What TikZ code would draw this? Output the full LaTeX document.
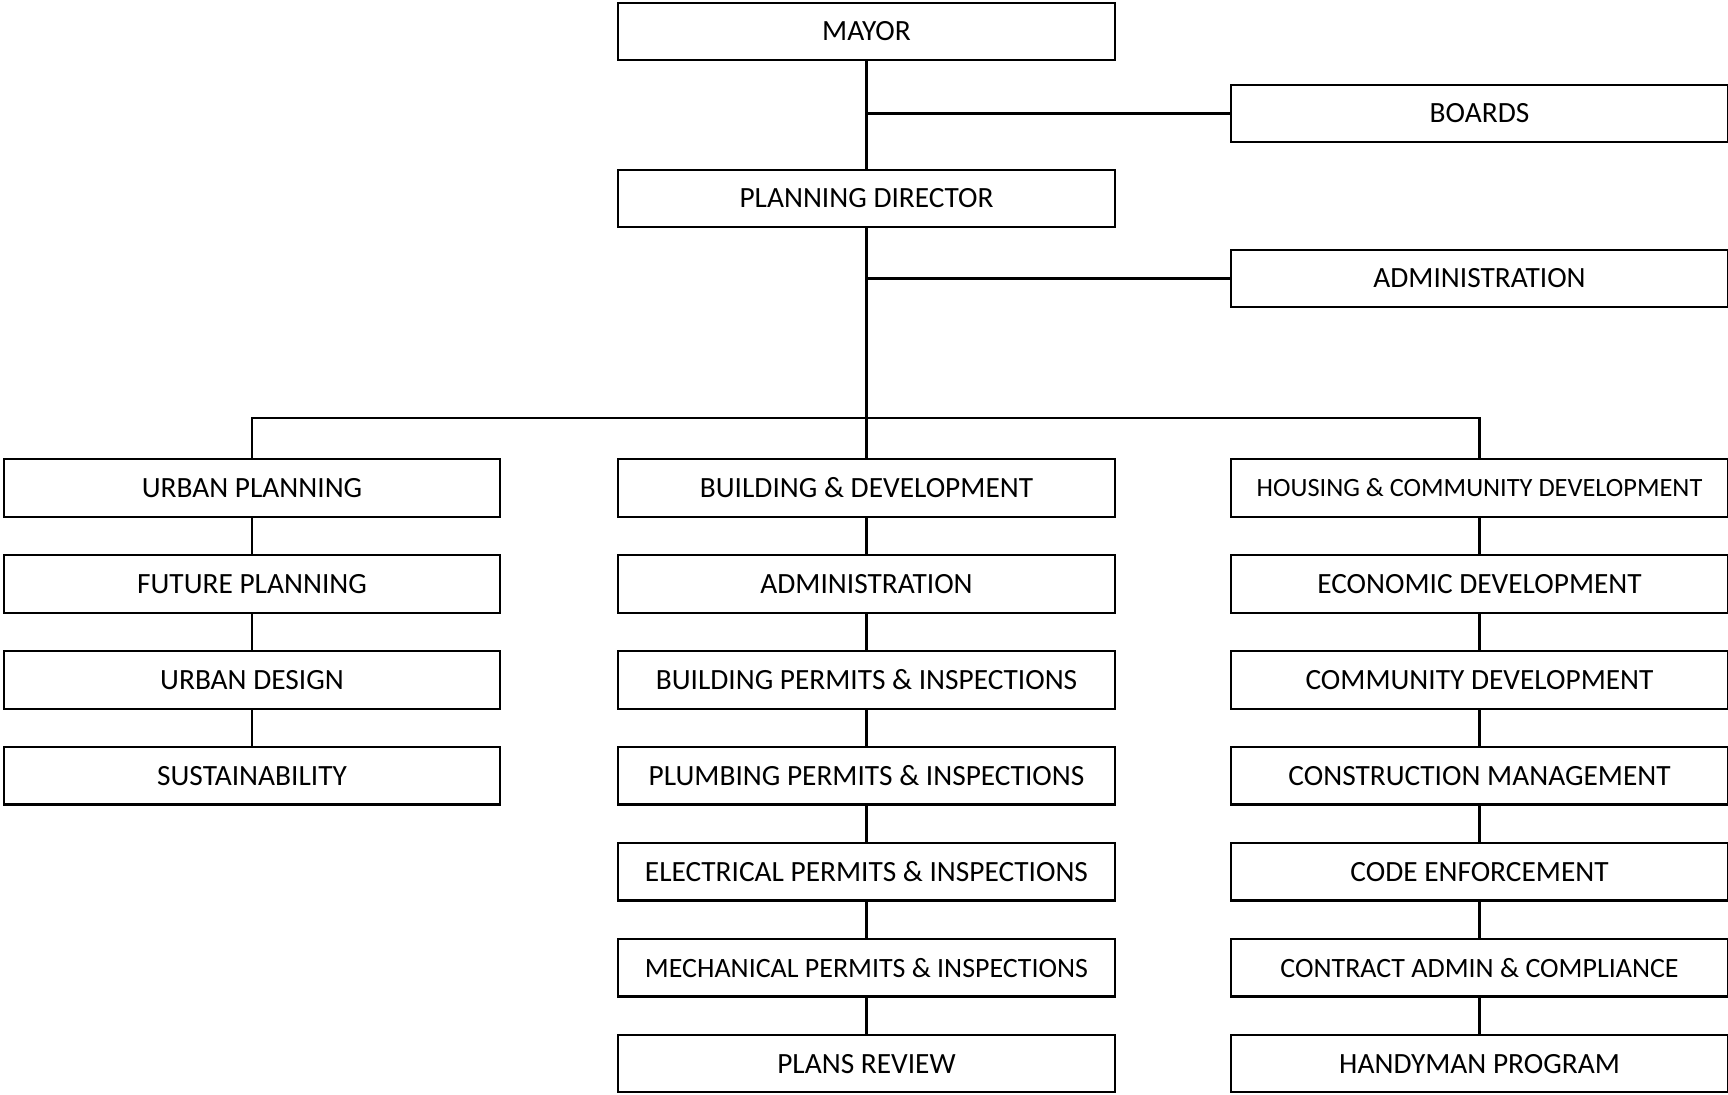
\documentclass[tikz,border=0pt]{standalone}
\usepackage{fontspec}
\setmainfont{Carlito}
\usetikzlibrary{positioning}

\tikzstyle{unit}=[draw, line width=0.6pt, minimum width=4.96cm, minimum height=0.573cm,
  inner sep=0pt, outer sep=0pt, font=\fontsize{8.35}{10}\selectfont]
\tikzstyle{tight}=[font=\fontsize{7.95}{9.5}\selectfont]

\begin{document}
\begin{tikzpicture}[x=0.01cm, y=-0.01cm, line width=0.6pt, node distance=0.386cm]
 \useasboundingbox (0,0) rectangle (1728,1094);
 % top of the chart
 \node[unit] (mayor) at (866.5,31.4) {MAYOR};
 \node[unit] (boards) at (1479.5,113.5) {BOARDS};
 \node[unit] (director) at (866.5,198.5) {PLANNING DIRECTOR};
 \node[unit] (admin) at (1479.5,278.5) {ADMINISTRATION};

 % the three divisions
 \node[unit] (urban) at (252,488) {URBAN PLANNING};
 \node[unit] (building) at (866.5,488) {BUILDING \& DEVELOPMENT};
 \node[unit, font=\fontsize{7.5}{9}\selectfont] (housing) at (1479.5,488) {HOUSING \& COMMUNITY DEVELOPMENT};

 % urban planning
 \node[unit, below=of urban] (future) {FUTURE PLANNING};
 \node[unit, below=of future] (design) {URBAN DESIGN};
 \node[unit, below=of design] (sustain) {SUSTAINABILITY};

 % building & development
 \node[unit, below=of building] (bdadmin) {ADMINISTRATION};
 \node[unit, below=of bdadmin] (bldpermits) {BUILDING PERMITS \& INSPECTIONS};
 \node[unit, below=of bldpermits] (plumbing) {PLUMBING PERMITS \& INSPECTIONS};
 \node[unit, below=of plumbing] (electrical) {ELECTRICAL PERMITS \& INSPECTIONS};
 \node[unit, tight, below=of electrical] (mechanical) {MECHANICAL PERMITS \& INSPECTIONS};
 \node[unit, below=of mechanical] (plans) {PLANS REVIEW};

 % housing & community development
 \node[unit, below=of housing] (economic) {ECONOMIC DEVELOPMENT};
 \node[unit, below=of economic] (community) {COMMUNITY DEVELOPMENT};
 \node[unit, below=of community] (construction) {CONSTRUCTION MANAGEMENT};
 \node[unit, below=of construction] (code) {CODE ENFORCEMENT};
 \node[unit, tight, below=of code] (contract) {CONTRACT ADMIN \& COMPLIANCE};
 \node[unit, below=of contract] (handyman) {HANDYMAN PROGRAM};

 \draw (mayor) -- (director);
 \draw (boards.west) -- (boards.west -| mayor.south);
 \draw (director) -- (building);
 \draw (admin.west) -- (admin.west -| director.south);
 \draw (urban.north) -- ++(0,-41.5) coordinate (bus) -| (housing.north);

 \draw (urban) -- (future) -- (design) -- (sustain);
 \draw (building) -- (bdadmin) -- (bldpermits) -- (plumbing) -- (electrical) -- (mechanical) -- (plans);
 \draw (housing) -- (economic) -- (community) -- (construction) -- (code) -- (contract) -- (handyman);
\end{tikzpicture}
\end{document}
